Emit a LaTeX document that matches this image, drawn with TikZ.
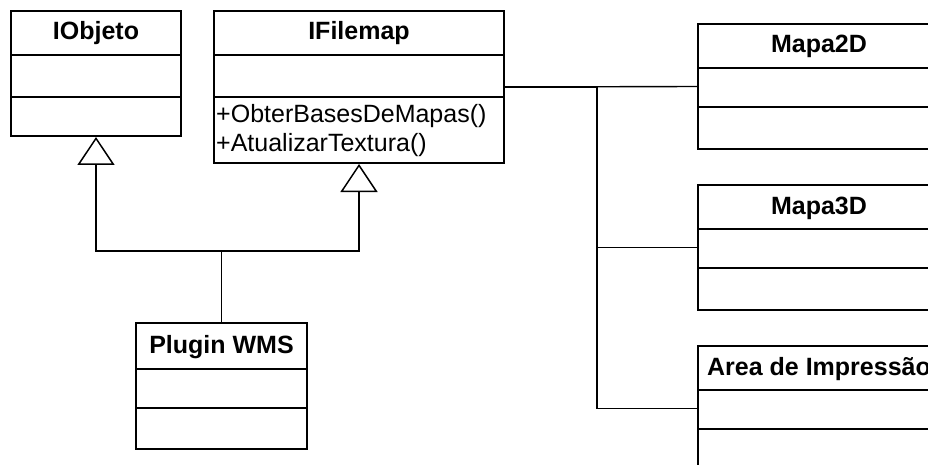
\documentclass[tikz,border=0pt]{standalone}
\usepackage{fontspec}
\setmainfont{Liberation Sans}
\usetikzlibrary{arrows.meta,calc}

\begin{document}
\begin{tikzpicture}[x=1pt,y=-1pt,
        classe/.style={draw,line width=2pt,inner sep=0pt,anchor=north west,
                       minimum height=125pt},
        titulo/.style={anchor=base,inner sep=0pt,font=\fontsize{25}{30}\selectfont\bfseries},
        metodo/.style={anchor=base west,inner sep=0pt,font=\fontsize{25}{30}\selectfont},
        divisor/.style={line width=2pt},
        heranca/.style={-{Triangle[open,length=28pt,width=37pt,line width=1.5pt]},line width=1.4pt},
        assoc/.style={line width=1.4pt}
    ]
        \useasboundingbox (0,0) rectangle (928,465);
        \clip (0,0) rectangle (928,465);
        % interfaces
        \node[classe,minimum width=170pt] (iobjeto) at (10,10) {};
        \node[titulo] (iobjeto-t) at ($(iobjeto.north)+(0,30)$) {IObjeto};
        \draw[divisor] ($(iobjeto.north west)+(0,45)$) -- ($(iobjeto.north east)+(0,45)$);
        \draw[divisor] ($(iobjeto.north west)+(0,87)$) -- ($(iobjeto.north east)+(0,87)$);

        \node[classe,minimum width=290pt,minimum height=152pt] (ifilemap) at (213,10) {};
        \node[titulo] (ifilemap-t) at ($(ifilemap.north)+(0,30)$) {IFilemap};
        \draw[divisor] ($(ifilemap.north west)+(0,45)$) -- ($(ifilemap.north east)+(0,45)$);
        \draw[divisor] ($(ifilemap.north west)+(0,87)$) -- ($(ifilemap.north east)+(0,87)$);
        \node[metodo] (m1) at ($(ifilemap.north west)+(3,113)$) {+ObterBasesDeMapas()};
        \node[metodo] (m2) at ($(ifilemap.north west)+(3,142)$) {+AtualizarTextura()};

        % plugin
        \node[classe,minimum width=171pt,minimum height=126pt] (plugin) at (135,322) {};
        \node[titulo] (plugin-t) at ($(plugin.north)+(0,31)$) {Plugin WMS};
        \draw[divisor] ($(plugin.north west)+(0,47)$) -- ($(plugin.north east)+(0,47)$);
        \draw[divisor] ($(plugin.north west)+(0,86)$) -- ($(plugin.north east)+(0,86)$);

        % mapas
        \node[classe,minimum width=242pt] (mapa2d) at (697,23) {};
        \node[titulo] (mapa2d-t) at ($(mapa2d.north)+(0,30)$) {Mapa2D};
        \node[classe,minimum width=242pt] (mapa3d) at (697,184) {};
        \node[titulo] (mapa3d-t) at ($(mapa3d.north)+(0,30)$) {Mapa3D};
        \node[classe,minimum width=242pt] (area) at (697,345) {};
        \node[titulo] (area-t) at ($(area.north)+(0,30)$) {Area de Impressão};
        \foreach \c in {mapa2d,mapa3d,area}{
            \draw[divisor] ($(\c.north west)+(0,45)$) -- ($(\c.north east)+(0,45)$);
            \draw[divisor] ($(\c.north west)+(0,84)$) -- ($(\c.north east)+(0,84)$);
        }

        % generalizacao
        \draw[heranca] (plugin.north) -- ++(0,-71) -| (iobjeto.south);
        \draw[heranca] (plugin.north) -- ++(0,-71) -| (ifilemap.south);

        % associacoes
        \draw[line width=2pt] (ifilemap.east) -- ++(92,0);
        \draw[assoc] (ifilemap.east) -- (mapa2d.west);
        \draw[assoc] (ifilemap.east) ++(92,0) |- (mapa3d.west);
        \draw[assoc] (ifilemap.east) ++(92,0) |- (area.west);
    \end{tikzpicture}
\end{document}
